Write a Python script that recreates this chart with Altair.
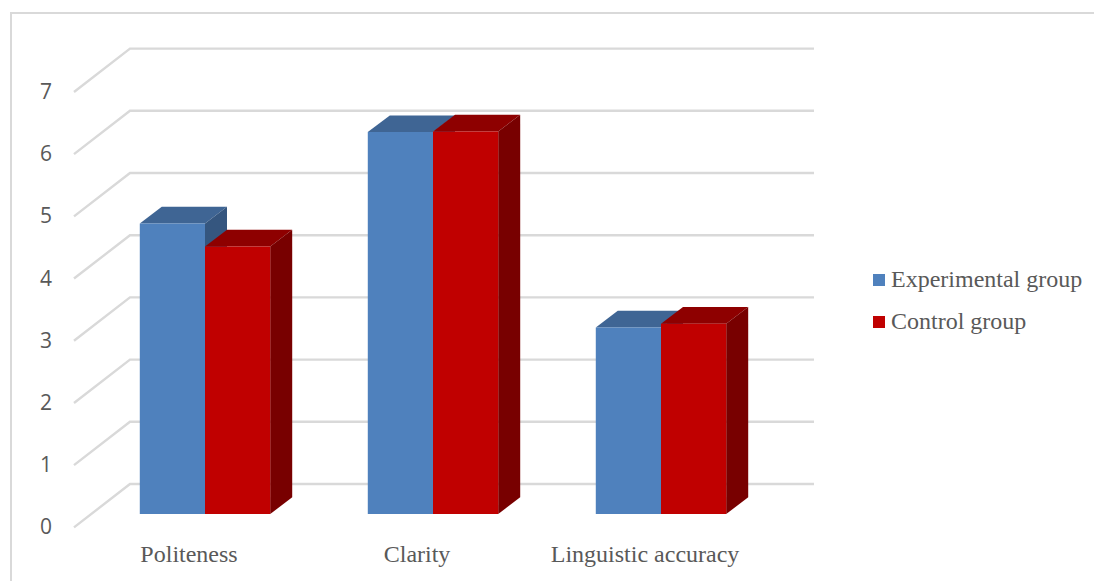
import altair as alt
import pandas as pd

# Chart values
categories = ["Politeness", "Clarity", "Linguistic accuracy"]
groups = ["Experimental group", "Control group"]
experimental = [4.67, 6.14, 3.00]
control = [4.30, 6.15, 3.06]
y_ticks = [0, 1, 2, 3, 4, 5, 6, 7]

# Colours per group: front, top and side faces
front = ["#4F81BD", "#C00000"]
top = ["#3F6594", "#8E0000"]
side = ["#35567F", "#780000"]
GRID = "#D9D9D9"
TEXT = "#595959"

# Oblique projection in data units
BAR_W = 0.286
DEPTH_X = 0.0965
DEPTH_Y = 0.268
WALL_FRONT_X = -0.5746
WALL_BACK_X = -0.329
WALL_RIGHT_X = 2.671
FLOOR_FRONT = -0.215
FLOOR_BACK = 0.482
LABEL_SHIFT = -0.07

x_scale = alt.Scale(domain=[-205 / 228, (1094 - 205) / 228], range=[0, 1094], nice=False, zero=False)
y_scale = alt.Scale(domain=[(514 - 581) / 62.2, 514 / 62.2], range=[581, 0], nice=False, zero=False)
X = alt.X("x:Q", scale=x_scale, axis=None)
Y = alt.Y("y:Q", scale=y_scale, axis=None, stack=None)
Y2 = alt.Y2("y2:Q")

bars, top_rows, side_rows = [], [], []
for g, (group, values) in enumerate(zip(groups, [experimental, control])):
    for c, (cat, v) in enumerate(zip(categories, values)):
        x0 = c + (g - 1) * BAR_W
        x1 = x0 + BAR_W
        bars.append(dict(cat=cat, group=group, x=x0, x2=x1, y=v, y2=0))
        for px, hi, lo in [
            (x0, v, v),
            (x0 + DEPTH_X, v + DEPTH_Y, v),
            (x1, v + DEPTH_Y, v),
            (x1 + DEPTH_X, v + DEPTH_Y, v + DEPTH_Y),
        ]:
            top_rows.append(dict(cat=cat, group=group, x=px, y=hi, y2=lo))
        for px, hi, lo in [(x1, v, 0), (x1 + DEPTH_X, v + DEPTH_Y, DEPTH_Y)]:
            side_rows.append(dict(cat=cat, group=group, x=px, y=hi, y2=lo))

top_df, side_df = pd.DataFrame(top_rows), pd.DataFrame(side_rows)

# Gridlines: slanted along the side wall, then level along the back wall
grid_rows = []
for t in y_ticks:
    grid_rows += [
        dict(tick=t, x=WALL_FRONT_X, y=t + FLOOR_FRONT, o=0),
        dict(tick=t, x=WALL_BACK_X, y=t + FLOOR_BACK, o=1),
        dict(tick=t, x=WALL_RIGHT_X, y=t + FLOOR_BACK, o=2),
    ]
grid = alt.Chart(pd.DataFrame(grid_rows)).mark_line(color=GRID, strokeWidth=2.4, strokeJoin="miter").encode(
    x=X, y=Y, detail="tick:N", order="o:Q"
)

layers = [
    alt.Chart(pd.DataFrame({"a": [0]})).mark_rule(color=GRID, strokeWidth=2).encode(
        x=alt.value(11), y=alt.value(13), y2=alt.value(581)
    ),
    alt.Chart(pd.DataFrame({"a": [0]})).mark_rule(color=GRID, strokeWidth=2).encode(
        y=alt.value(13), x=alt.value(10), x2=alt.value(1094)
    ),
    grid,
]

# Top and side faces, back group first so the nearer group covers it
for g, group in enumerate(groups):
    layers.append(
        alt.Chart(top_df[top_df.group == group]).mark_area(color=top[g], interpolate="linear").encode(
            x=X, y=Y, y2=Y2, detail="cat:N"
        )
    )
    layers.append(
        alt.Chart(side_df[side_df.group == group]).mark_area(color=side[g], interpolate="linear").encode(
            x=X, y=Y, y2=Y2, detail="cat:N"
        )
    )

# Front faces carry the legend
layers.append(
    alt.Chart(pd.DataFrame(bars)).mark_rect().encode(
        x=X,
        x2=alt.X2("x2:Q"),
        y=Y,
        y2=Y2,
        color=alt.Color(
            "group:N",
            scale=alt.Scale(domain=groups, range=front),
            legend=alt.Legend(
                title=None,
                orient="none",
                legendX=865,
                legendY=268,
                symbolType="square",
                symbolSize=144,
                symbolOffset=2,
                symbolStrokeWidth=0,
                labelFont="Liberation Serif",
                labelFontSize=24,
                labelColor=TEXT,
                labelOffset=0,
                rowPadding=18,
                padding=0,
                labelLimit=300,
            ),
        ),
    )
)

# Value labels beside the slanted gridlines
layers.append(
    alt.Chart(pd.DataFrame({"tick": y_ticks, "y": [t + FLOOR_FRONT for t in y_ticks], "x": [-0.6974] * len(y_ticks)}))
    .mark_text(font="Open Sans", fontSize=21, color=TEXT, align="center", baseline="middle", dy=1)
    .encode(x=X, y=Y, text="tick:Q")
)

# Category labels under the floor
layers.append(
    alt.Chart(pd.DataFrame({
        "cat": categories,
        "x": [c + LABEL_SHIFT for c in range(len(categories))],
        "y": [-0.775] * len(categories),
    }))
    .mark_text(font="Liberation Serif", fontSize=24, color=TEXT, align="center", baseline="alphabetic")
    .encode(x=X, y=Y, text="cat:N")
)

chart = (
    alt.layer(*layers)
    .properties(width=1094, height=581, padding=0, autosize=alt.AutoSizeParams(type="none"), background="white")
    .configure_view(stroke=None)
)

chart.save("out.html", embed_options={"renderer": "svg", "actions": False})
